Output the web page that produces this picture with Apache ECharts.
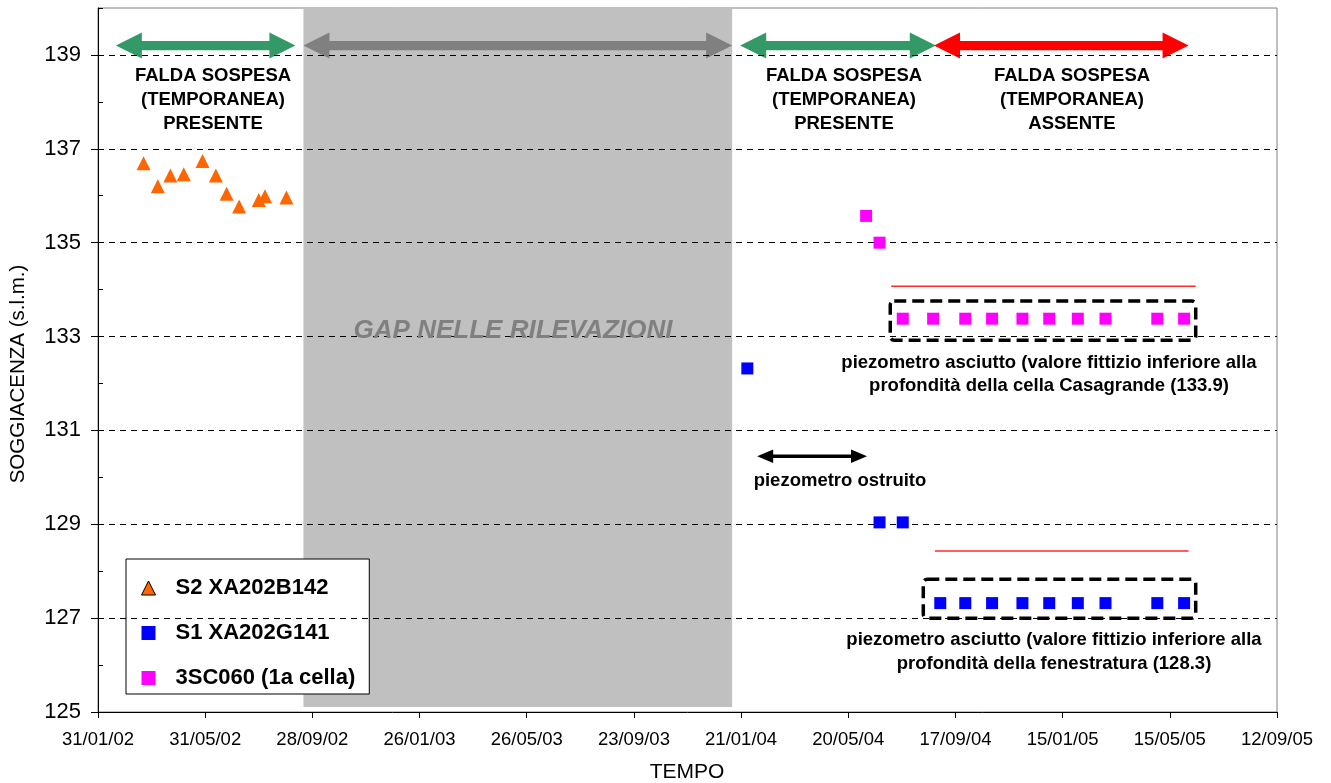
<!DOCTYPE html>
<html><head><meta charset="utf-8">
<script src="https://cdn.jsdelivr.net/npm/echarts@6/dist/echarts.min.js"></script>
<style>html,body{margin:0;padding:0;background:#fff}#c{width:1331px;height:783px}</style>
</head><body><div id="c"></div>
<script>
// ---------- data ----------
const xStart = '2002-01-31', xEnd = '2005-09-12';
const xTickDays = 120;
const yMin = 125, yMax = 140;
const yTicks = [125, 127, 129, 131, 133, 135, 137, 139];
const yMinorTicks = [126, 128, 130, 132, 134, 136, 138, 140];

const s2Name = 'S2 XA202B142';
const s2Dates = ['2002-03-23','2002-04-08','2002-04-22','2002-05-07','2002-05-28','2002-06-12','2002-06-24','2002-07-08','2002-07-30','2002-08-06','2002-08-30'];
const s2Values = [136.69,136.20,136.43,136.46,136.74,136.43,136.04,135.77,135.91,135.99,135.96];

const s1Name = 'S1 XA202G141';
const s1Dates = ['2004-01-28','2004-06-24','2004-07-20','2004-08-31','2004-09-28','2004-10-28','2004-12-01','2004-12-31','2005-02-01','2005-03-04','2005-05-01','2005-05-31'];
const s1Values = [132.32,129.04,129.04,127.32,127.32,127.32,127.32,127.32,127.32,127.32,127.32,127.32];

const sc3Name = '3SC060 (1a cella)';
const sc3Dates = ['2004-06-09','2004-06-24','2004-07-20','2004-08-23','2004-09-28','2004-10-28','2004-12-01','2004-12-31','2005-02-01','2005-03-04','2005-05-01','2005-05-31'];
const sc3Values = [135.57,135.00,133.38,133.38,133.38,133.38,133.38,133.38,133.38,133.38,133.38,133.38];

// annotations (date ranges and levels in data units)
const arrowLevel = 139.2;
const faldaArrow1 = ['2002-02-20','2002-09-09'];
const gapPeriod = ['2002-09-18','2004-01-11'];
const faldaArrow2 = ['2004-01-20','2004-08-26'];
const assenteArrow = ['2004-08-24','2005-06-05'];
const ostruitoArrow = ['2004-02-08','2004-06-10'];
const ostruitoLevel = 130.45;
const redLine1 = ['2004-07-07','2005-06-13'], redLevel1 = 134.07;
const redLine2 = ['2004-08-25','2005-06-05'], redLevel2 = 128.43;
const box1 = ['2004-07-06','2005-06-13'], box1Range = [132.92, 133.755];
const box2 = ['2004-08-12','2005-06-13'], box2Range = [127.0, 127.83];

const faldaText1 = 'FALDA SOSPESA\n(TEMPORANEA)\nPRESENTE';
const faldaText2 = 'FALDA SOSPESA\n(TEMPORANEA)\nPRESENTE';
const assenteText = 'FALDA SOSPESA\n(TEMPORANEA)\nASSENTE';
const gapText = 'GAP NELLE RILEVAZIONI';
const ostruitoText = 'piezometro ostruito';
const casagrandeText = 'piezometro asciutto (valore fittizio inferiore alla\nprofondità della cella Casagrande (133.9)';
const fenestraturaText = 'piezometro asciutto (valore fittizio inferiore alla\nprofondità della fenestratura (128.3)';
const xTitle = 'TEMPO';
const yTitle = 'SOGGIACENZA (s.l.m.)';

// ---------- helpers ----------
const DAY = 86400000;
function utc(s){const p=s.split('-').map(Number);return Date.UTC(p[0],p[1]-1,p[2]);}
const T0 = utc(xStart);
function toDay(s){return Math.round((utc(s)-T0)/DAY);}
function fmtDay(v){
  const d=new Date(T0+v*DAY);
  const dd=String(d.getUTCDate()).padStart(2,'0');
  const mm=String(d.getUTCMonth()+1).padStart(2,'0');
  const yy=String(d.getUTCFullYear()%100).padStart(2,'0');
  return dd+'/'+mm+'/'+yy;
}
function pts(dates, vals){return dates.map((d,i)=>[toDay(d), vals[i]]);}

const FONT = '"Liberation Sans", Arial, sans-serif';

function arrowRender(L, H, T, color){
  return function(params, api){
    const p1 = api.coord([api.value(0), api.value(2)]);
    const p2 = api.coord([api.value(1), api.value(2)]);
    const x1=p1[0], x2=p2[0], y=p1[1];
    return {type:'polygon', shape:{points:[
      [x1,y],[x1+L,y-H],[x1+L,y-T],[x2-L,y-T],[x2-L,y-H],[x2,y],[x2-L,y+H],[x2-L,y+T],[x1+L,y+T],[x1+L,y+H]
    ]}, style:{fill:color}};
  };
}
function arrowSeries(range, level, L, H, T, color){
  return {type:'custom', silent:true, z:3, renderItem:arrowRender(L,H,T,color),
    data:[[toDay(range[0]), toDay(range[1]), level]]};
}
function boxSeries(range, yr){
  return {type:'custom', silent:true, z:3,
    renderItem:function(params, api){
      const a = api.coord([api.value(0), api.value(3)]);
      const b = api.coord([api.value(1), api.value(2)]);
      return {type:'rect', shape:{x:a[0], y:a[1], width:b[0]-a[0], height:b[1]-a[1], r:4},
        style:{fill:'none', stroke:'#000', lineWidth:3.5, lineDash:[12,6]}};
    },
    data:[[toDay(range[0]), toDay(range[1]), yr[0], yr[1]]]};
}
function redLineSeries(range, level){
  return {type:'line', silent:true, z:3, showSymbol:false, symbol:'none',
    lineStyle:{color:'#ff2a2a', width:1.5},
    data:[[toDay(range[0]), level],[toDay(range[1]), level]]};
}

const chart = echarts.init(document.getElementById('c'), null, {renderer:'canvas'});

const textStyleBase = {fontFamily:FONT, fontWeight:'bold', fill:'#000', align:'center', verticalAlign:'middle'};
function gText(x, y, text, extra){
  return {type:'text', x:x, y:y, z:100, silent:true,
    style:Object.assign({}, textStyleBase, {text:text}, extra||{})};
}

const option = {
  animation:false,
  backgroundColor:'#fff',
  grid:{left:98, right:54, top:8, bottom:71, show:true, borderColor:'#808080', borderWidth:1, backgroundColor:'transparent'},
  xAxis:{
    type:'value', min:0, max:toDay(xEnd), interval:xTickDays,
    axisLine:{show:true, onZero:false, lineStyle:{color:'#000', width:1}},
    axisTick:{show:true, length:6, lineStyle:{color:'#000'}},
    axisLabel:{fontSize:18.5, fontFamily:FONT, color:'#000', margin:18, formatter:fmtDay, showMinLabel:true, showMaxLabel:true},
    splitLine:{show:false}
  },
  yAxis:[{
    type:'value', min:yMin, max:yMax, interval:1,
    axisLine:{show:true, onZero:false, lineStyle:{color:'#000', width:1}},
    axisTick:{show:true, length:7, customValues:yTicks, lineStyle:{color:'#000'}},
    axisLabel:{fontSize:22, fontFamily:FONT, color:'#000', margin:17, customValues:yTicks},
    splitLine:{show:false}
  },{
    type:'value', min:yMin, max:yMax, interval:1, position:'left', offset:0,
    axisLine:{show:false},
    axisTick:{show:true, inside:true, length:5, customValues:yMinorTicks, lineStyle:{color:'#000'}},
    axisLabel:{show:false},
    splitLine:{show:false}
  }],
  legend:{
    orient:'vertical', left:126, top:559, padding:[17,14,4,15],
    itemWidth:14, itemHeight:14, itemGap:21,
    borderColor:'#000', borderWidth:1, backgroundColor:'#fff',
    textStyle:{fontSize:22, fontWeight:'bold', fontFamily:FONT, color:'#000', lineHeight:24, padding:[0,0,0,15]},
    data:[{name:s2Name, itemStyle:{borderColor:'#000', borderWidth:1}}, {name:s1Name}, {name:sc3Name}]
  },
  series:[
    // dashed horizontal gridlines at labelled ticks
    {type:'scatter', data:[], silent:true, z:1,
      markLine:{silent:true, symbol:['none','none'], label:{show:false},
        lineStyle:{color:'#000', width:1, type:[6,5]},
        data:yTicks.filter(v=>v>yMin).map(v=>({yAxis:v}))}},
    // gap band
    {type:'custom', silent:true, z:2,
      renderItem:function(params, api){
        const cs = params.coordSys;
        const a = api.coord([api.value(0), yMax]);
        const b = api.coord([api.value(1), yMax]);
        return {type:'rect', shape:{x:a[0], y:cs.y+1, width:b[0]-a[0], height:cs.height-6}, style:{fill:'#c0c0c0'}};
      },
      data:[[toDay(gapPeriod[0]), toDay(gapPeriod[1])]]},
    arrowSeries(faldaArrow1, arrowLevel, 26, 13, 4.6, '#339966'),
    arrowSeries(gapPeriod, arrowLevel, 26, 13, 4.6, '#808080'),
    arrowSeries(faldaArrow2, arrowLevel, 26, 13, 4.6, '#339966'),
    arrowSeries(assenteArrow, arrowLevel, 26, 13, 4.6, '#ff0000'),
    arrowSeries(ostruitoArrow, ostruitoLevel, 16, 6.7, 1.8, '#000000'),
    redLineSeries(redLine1, redLevel1),
    redLineSeries(redLine2, redLevel2),
    boxSeries(box1, box1Range),
    boxSeries(box2, box2Range),
    {name:s2Name, type:'scatter', z:5, symbol:'triangle', symbolSize:14, itemStyle:{color:'#ff6600', opacity:1}, data:pts(s2Dates, s2Values)},
    {name:s1Name, type:'scatter', z:5, symbol:'rect', symbolSize:12, itemStyle:{color:'#0000ff', opacity:1}, data:pts(s1Dates, s1Values)},
    {name:sc3Name, type:'scatter', z:5, symbol:'rect', symbolSize:12, itemStyle:{color:'#ff00ff', opacity:1}, data:pts(sc3Dates, sc3Values)}
  ],
  graphic:[
    gText(213, 100, faldaText1, {fontSize:18.5, lineHeight:24}),
    gText(844, 100, faldaText2, {fontSize:18.5, lineHeight:24}),
    gText(1072, 100, assenteText, {fontSize:18.5, lineHeight:24}),
    gText(513, 331, gapText, {fontSize:26, fontStyle:'italic', fill:'#808080'}),
    gText(840, 481, ostruitoText, {fontSize:18.5}),
    gText(1049, 374.5, casagrandeText, {fontSize:18.5, lineHeight:23.5}),
    gText(1054, 652, fenestraturaText, {fontSize:18.5, lineHeight:24}),
    gText(687, 772, xTitle, {fontSize:21, fontWeight:'normal'}),
    {type:'text', x:18, y:374, rotation:Math.PI/2, z:100, silent:true,
      style:Object.assign({}, textStyleBase, {text:yTitle, fontSize:20.5, fontWeight:'normal'})}
  ]
};
chart.setOption(option);
</script>
</body></html>
